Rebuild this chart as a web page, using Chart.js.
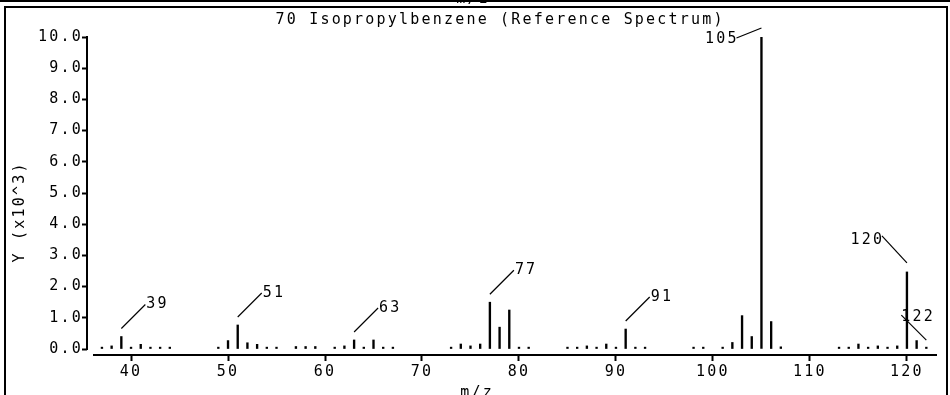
<!DOCTYPE html>
<html><head><meta charset="utf-8">
<script src="https://cdn.jsdelivr.net/npm/chart.js@4"></script>
<style>html,body{margin:0;padding:0;background:#fff;overflow:hidden}</style>
</head><body>
<canvas id="c" width="950" height="395"></canvas>
<script>
// ---- data ----
const mz = [37,38,39,40,41,42,43,44,49,50,51,52,53,54,55,57,58,59,61,62,63,64,65,66,67,
  73,74,75,76,77,78,79,80,81,85,86,87,88,89,90,91,92,93,98,99,101,102,103,104,105,106,107,
  113,114,115,116,117,118,119,120,121,122];
const intensity = [0.06,0.1,0.40,0.06,0.15,0.06,0.06,0.06,0.06,0.27,0.77,0.2,0.15,0.06,0.06,0.08,0.08,0.08,0.06,0.1,0.29,0.06,0.29,0.06,0.06,
  0.06,0.16,0.1,0.16,1.5,0.7,1.25,0.06,0.06,0.06,0.06,0.1,0.06,0.16,0.06,0.64,0.06,0.06,0.06,0.06,0.06,0.21,1.07,0.4,10.0,0.88,0.07,
  0.06,0.06,0.16,0.06,0.1,0.06,0.1,2.47,0.27,0.06];
const labeledPeaks = [39,51,63,77,91,105,120,122];
const yTicks = [0,1,2,3,4,5,6,7,8,9,10];
const xTicks = [40,50,60,70,80,90,100,110,120];
const titleText = '70 Isopropylbenzene (Reference Spectrum)';
const xTitle = 'm/z';
const yTitle = 'Y (x10^3)';

// ---- style / layout ----
const FONT = '"DejaVu Sans Mono", monospace';
const FSIZE = 15;
const SPACING = 2.2;
const labelDir = {39:'ur',51:'ur',63:'ur',77:'ur',91:'ur',105:'l',120:'ul',122:'ulr'};

function drawText(ctx, txt, x, y, align) {
  ctx.textAlign = 'left';
  const w = ctx.measureText(txt).width - SPACING;
  let sx = x;
  if (align === 'right') sx = x - w;
  else if (align === 'center') sx = x - w / 2;
  ctx.fillText(txt, sx, y);
}

const decor = {
  id: 'decor',
  beforeDraw(chart) {
    chart.ctx.letterSpacing = SPACING + 'px';
  },
  afterDraw(chart) {
    const ctx = chart.ctx, xs = chart.scales.x, ys = chart.scales.y, ca = chart.chartArea;
    ctx.save();
    ctx.letterSpacing = SPACING + 'px';
    ctx.strokeStyle = '#000'; ctx.fillStyle = '#000';
    // axes
    ctx.lineWidth = 2;
    ctx.beginPath();
    ctx.moveTo(ca.left, ys.getPixelForValue(10) - 1);
    ctx.lineTo(ca.left, ys.getPixelForValue(0) + 1);
    ctx.moveTo(ca.left + 6, ca.bottom);
    ctx.lineTo(ca.right, ca.bottom);
    ctx.stroke();
    // frame
    ctx.beginPath();
    ctx.moveTo(0, 1); ctx.lineTo(950, 1);
    ctx.moveTo(4, 7); ctx.lineTo(948, 7);
    ctx.moveTo(5, 7); ctx.lineTo(5, 395);
    ctx.moveTo(947, 7); ctx.lineTo(947, 395);
    ctx.stroke();
    ctx.font = FSIZE + 'px ' + FONT;
    ctx.textBaseline = 'alphabetic';
    drawText(ctx, xTitle, 472, 3, 'center');
    // titles
    ctx.textBaseline = 'middle';
    drawText(ctx, titleText, 499, 20, 'center');
    ctx.textBaseline = 'alphabetic';
    drawText(ctx, xTitle, 476, 397, 'center');
    ctx.save();
    ctx.translate(20, 213);
    ctx.rotate(-Math.PI / 2);
    ctx.textBaseline = 'middle';
    drawText(ctx, yTitle, 0, 0, 'center');
    ctx.restore();
    // peak labels
    ctx.lineWidth = 1.2;
    ctx.textBaseline = 'middle';
    labeledPeaks.forEach(m => {
      const i = mz.indexOf(m);
      const x = xs.getPixelForValue(m);
      const top = ys.getPixelForValue(intensity[i]);
      const d = labelDir[m];
      let sx, sy, ex, ey, tx, ty, al;
      if (d === 'ur') { sx = x; sy = top - 8; ex = x + 24; ey = top - 32; tx = ex + 1; ty = ey; al = 'left'; }
      else if (d === 'l') { sx = x; sy = top - 9; ex = x - 25; ey = top + 1; tx = ex; ty = ey + 1; al = 'right'; }
      else if (d === 'ul') { sx = x; sy = top - 9; ex = x - 25; ey = top - 36; tx = ex; ty = ey + 4; al = 'right'; }
      else { sx = x; sy = top - 7; ex = x - 25; ey = top - 32; tx = ex; ty = ey + 2; al = 'left'; }
      ctx.beginPath(); ctx.moveTo(sx, sy); ctx.lineTo(ex, ey); ctx.stroke();
      drawText(ctx, String(m), tx, ty, al);
    });
    ctx.restore();
  }
};

new Chart(document.getElementById('c').getContext('2d'), {
  type: 'bar',
  data: { datasets: [{ data: mz.map((m, i) => ({ x: m, y: intensity[i] })), backgroundColor: '#000', borderWidth: 0, barThickness: 1.7 }] },
  options: {
    responsive: false, animation: false, devicePixelRatio: 1,
    layout: { padding: { left: 0, right: 13, top: 37, bottom: 0 } },
    plugins: { legend: { display: false }, tooltip: { enabled: false }, title: { display: false } },
    scales: {
      x: {
        type: 'linear', min: 35.46, max: 123.1, offset: false,
        afterBuildTicks(s) { s.ticks = xTicks.map(v => ({ value: v })); },
        afterFit(s) { s.height = 40; },
        grid: { display: true, offset: false, drawOnChartArea: false, drawTicks: true, tickLength: 6, tickWidth: 2, tickColor: '#000', color: '#000' },
        border: { display: false },
        ticks: { color: '#000', font: { family: FONT, size: FSIZE }, padding: 2, maxRotation: 0, autoSkip: false, callback: v => String(v) }
      },
      y: {
        min: -0.192, max: 10,
        afterBuildTicks(s) { s.ticks = yTicks.map(v => ({ value: v })); },
        afterFit(s) { s.width = 87; },
        grid: { display: true, drawOnChartArea: false, drawTicks: true, tickLength: 5, tickWidth: 2, tickColor: '#000', color: '#000' },
        border: { display: false },
        ticks: { color: '#000', font: { family: FONT, size: FSIZE }, padding: -1, autoSkip: false, callback: v => Number(v).toFixed(1) }
      }
    }
  },
  plugins: [decor]
});
</script>
</body></html>
